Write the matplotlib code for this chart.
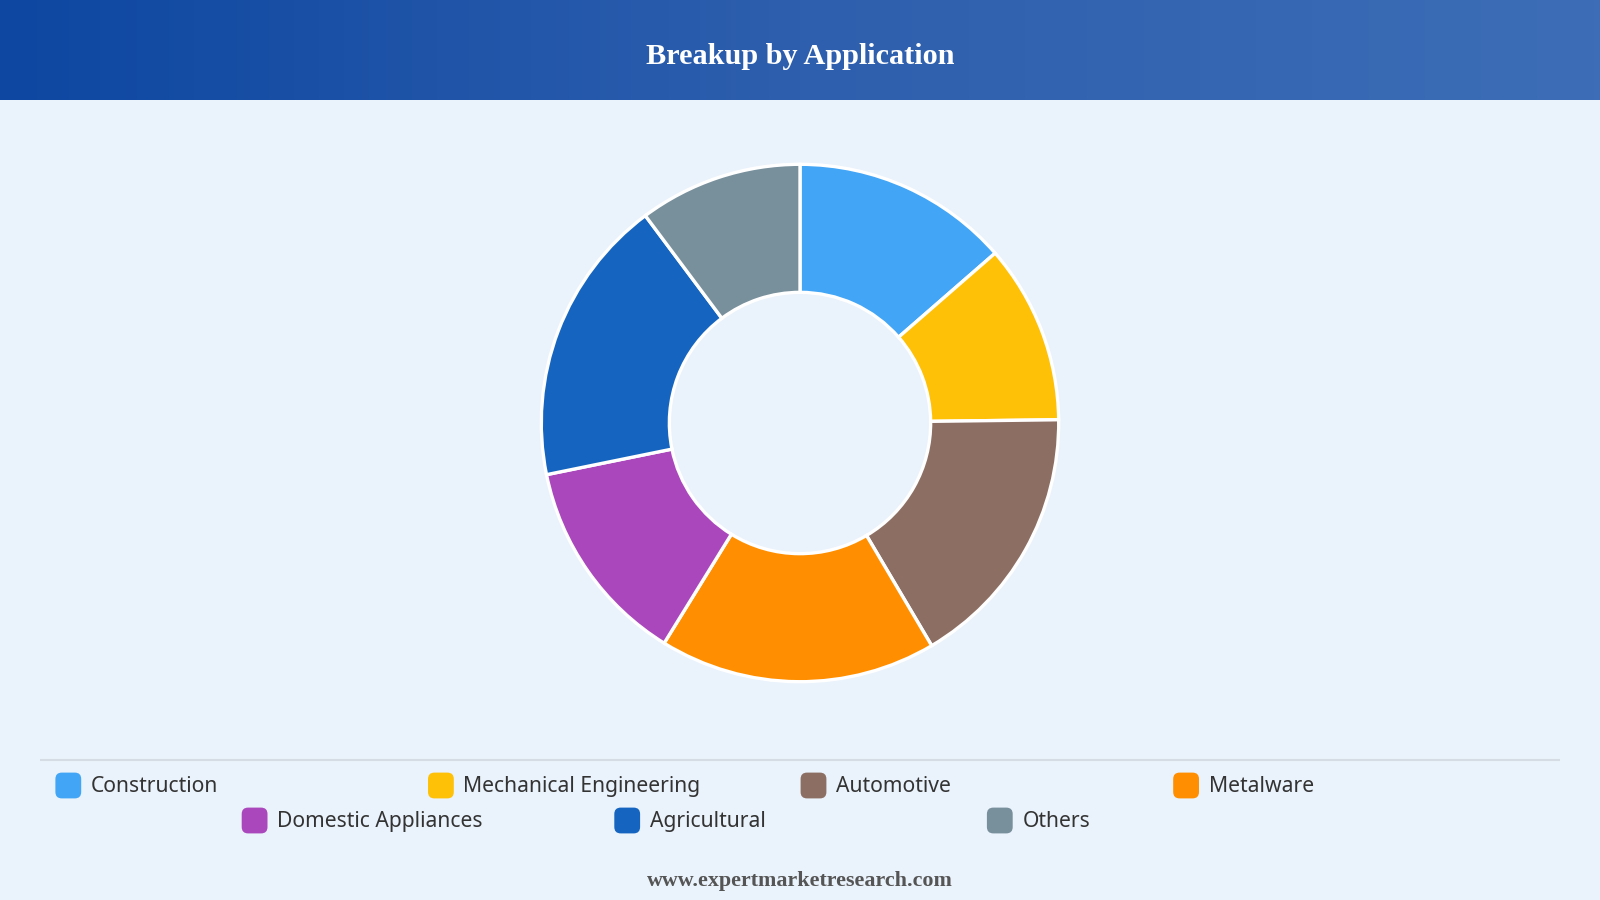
import numpy as np
import matplotlib.pyplot as plt
from matplotlib.colors import LinearSegmentedColormap
from matplotlib.patches import FancyBboxPatch

categories = ['Construction', 'Mechanical Engineering', 'Automotive', 'Metalware',
              'Domestic Appliances', 'Agricultural', 'Others']
shares = [13.6, 11.2, 16.7, 17.3, 13.0, 18.0, 10.2]
colors = ['#42A5F5', '#FFC107', '#8D6E63', '#FF8F00', '#AB47BC', '#1565C0', '#78909C']

W, H = 1600, 900
bg = '#EAF2FB'

fig = plt.figure(figsize=(16, 9), dpi=100, facecolor=bg)

# header band with gradient
hdr = fig.add_axes([0, 1 - 100 / H, 1, 100 / H])
grad = LinearSegmentedColormap.from_list('hdr', ['#0D47A1', '#2E5FAE', '#3C6DB6'])
hdr.imshow(np.linspace(0, 1, 256).reshape(1, -1), aspect='auto', cmap=grad, extent=[0, 1, 0, 1])
hdr.set_axis_off()
hdr.text(0.5, 0.44, 'Breakup by Application', ha='center', va='center', color='white',
         fontsize=21.8, fontweight='bold', family='Liberation Serif')

# donut
cx, cy, r = 800, 423, 260
ax = fig.add_axes([(cx - r) / W, (H - cy - r) / H, 2 * r / W, 2 * r / H])
ax.pie(shares, colors=colors, startangle=90, counterclock=False, radius=1,
       wedgeprops=dict(width=0.495, edgecolor='white', linewidth=2.4))
ax.set_xlim(-1.005, 1.005)
ax.set_ylim(-1.005, 1.005)
ax.set_aspect('equal')
ax.set_axis_off()

# legend separator
fig.add_artist(plt.Line2D([41 / W, 1559 / W], [1 - 760 / H, 1 - 760 / H],
                          color='#D6DCE3', linewidth=1.5))

# legend, wrapped and centred like a flex row
col_w = 372.6
rows = [categories[:4], categories[4:]]
row_y = [785, 820]
k = 0
for row, y in zip(rows, row_y):
    x0 = 800 - len(row) * col_w / 2
    for i, name in enumerate(row):
        x = x0 + i * col_w + 1
        box = FancyBboxPatch(((x + 2) / W, 1 - (y + 11) / H), 21 / W, 21 / H,
                             boxstyle='round,pad=0.0015,rounding_size=0.004',
                             transform=fig.transFigure, facecolor=colors[k],
                             edgecolor='none', mutation_aspect=W / H)
        fig.add_artist(box)
        fig.text((x + 35) / W, 1 - (y - 1) / H, name, ha='left', va='center_baseline',
                 fontsize=15.2, color='#333333', family='Noto Sans')
        k += 1

fig.text(0.5, 1 - 881 / H, 'www.expertmarketresearch.com', ha='center', va='center',
         fontsize=15.8, fontweight='bold', color='#555555', family='Liberation Serif')

fig.savefig('out.png', dpi=100, facecolor=bg)
